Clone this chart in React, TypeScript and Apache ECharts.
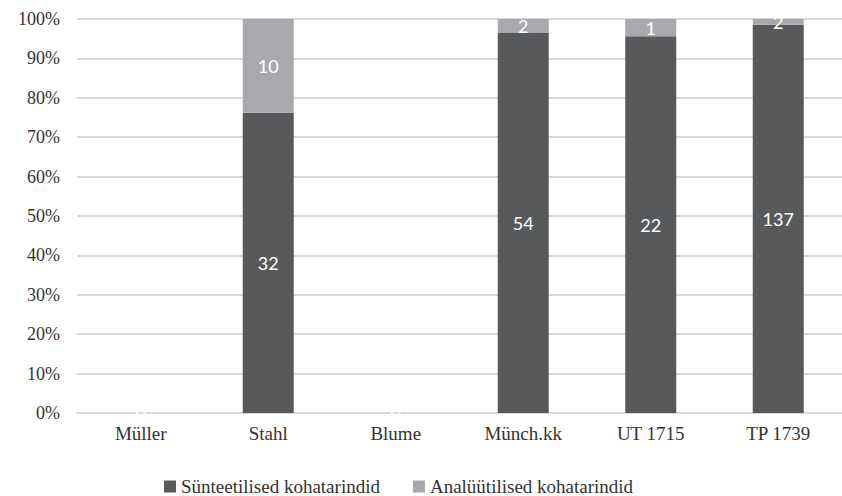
import React, { useEffect, useRef } from "react";
import * as echarts from "echarts";

const categories = ["Müller", "Stahl", "Blume", "Münch.kk", "UT 1715", "TP 1739"];
const syntheticCounts = [0, 32, 0, 54, 22, 137];
const analyticCounts = [0, 10, 0, 2, 1, 2];
const seriesNames = ["Sünteetilised kohatarindid", "Analüütilised kohatarindid"];

const pct = (a: number, b: number) => (a + b === 0 ? 0 : (a / (a + b)) * 100);

export default function App() {
  const ref = useRef<HTMLDivElement>(null);
  useEffect(() => {
    if (!ref.current) return;
    const chart = echarts.init(ref.current, undefined, { renderer: "svg" });
    const synPct = syntheticCounts.map((v, i) => pct(v, analyticCounts[i]));
    const anaPct = analyticCounts.map((v, i) => pct(v, syntheticCounts[i]));
    const labelStyle = {
      show: true,
      position: "inside" as const,
      color: "#ffffff",
      fontFamily: "Lato, 'Open Sans', sans-serif",
      fontSize: 18,
    };
    chart.setOption({
      animation: false,
      backgroundColor: "#ffffff",
      grid: { left: 77, right: 0, top: 19, bottom: 83, containLabel: false },
      legend: {
        data: seriesNames,
        left: 159,
        top: 472,
        icon: "rect",
        itemWidth: 12,
        itemHeight: 12,
        itemGap: 33,
        textStyle: {
          fontFamily: "'Liberation Serif', 'Times New Roman', serif",
          fontSize: 19,
          color: "#333333",
        },
      },
      xAxis: {
        type: "category",
        data: categories,
        axisLine: { show: true, lineStyle: { color: "#d9d9d9", width: 2 } },
        axisTick: { show: false },
        axisLabel: {
          margin: 11,
          fontFamily: "'Liberation Serif', 'Times New Roman', serif",
          fontSize: 19,
          color: "#333333",
        },
      },
      yAxis: {
        type: "value",
        min: 0,
        max: 100,
        interval: 10,
        axisLine: { show: false },
        axisTick: { show: false },
        splitLine: { lineStyle: { color: "#d9d9d9", width: 2 } },
        axisLabel: {
          formatter: "{value}%",
          margin: 17,
          fontFamily: "'Liberation Serif', 'Times New Roman', serif",
          fontSize: 18,
          color: "#333333",
        },
      },
      series: [
        {
          name: seriesNames[0],
          type: "bar",
          stack: "total",
          barWidth: 51,
          data: synPct,
          itemStyle: { color: "#58595b" },
          label: {
            ...labelStyle,
            formatter: (p: any) => String(syntheticCounts[p.dataIndex]),
          },
        },
        {
          name: seriesNames[1],
          type: "bar",
          stack: "total",
          barWidth: 51,
          data: anaPct,
          itemStyle: { color: "#a7a9ac" },
          label: {
            ...labelStyle,
            formatter: (p: any) =>
              syntheticCounts[p.dataIndex] + analyticCounts[p.dataIndex] === 0
                ? ""
                : String(analyticCounts[p.dataIndex]),
          },
        },
      ],
    });
    return () => chart.dispose();
  }, []);
  return (
    <div
      ref={ref}
      style={{ position: "absolute", left: 0, top: 0, width: 842, height: 496 }}
    />
  );
}
